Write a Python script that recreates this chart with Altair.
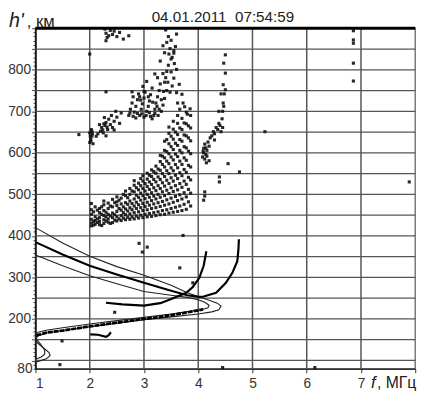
import altair as alt
import pandas as pd

# ---------------- axes / grid values ----------------
x_tick_vals = [1, 2, 3, 4, 5, 6, 7, 8]
f_grid = [2, 3, 4, 5, 6, 7]
y_label_vals = [80, 200, 300, 400, 500, 600, 700, 800]
y_minor_vals = list(range(80, 901, 10))
h_grid = [100, 150, 200, 250, 300, 350, 400, 450, 500, 550, 600, 650, 700, 750, 800, 850]
title_text = "04.01.2011\u00a0 07:54:59"

# ---------------- traces (f MHz, h' km) ----------------
outer_f = [1.0, 1.5, 2.0, 2.5, 3.0, 3.5, 3.8, 4.0, 4.2, 4.35, 4.42, 4.38, 4.25, 4.0, 3.5, 3.0, 2.5, 2.0, 1.5, 1.2, 1.05, 1.0, 1.04, 1.15, 1.25, 1.27, 1.2, 1.08, 1.0]
outer_h = [420, 383, 351, 326, 305, 281, 263, 254, 245, 238, 231, 222, 217, 212, 205, 198, 190, 181, 172, 166, 160, 152, 142, 130, 119, 112, 104, 99, 96]
inner_f = [1.0, 1.5, 2.0, 2.5, 3.0, 3.5, 3.8, 4.0, 4.12, 4.2, 4.18, 4.05, 3.5, 3.0, 2.5, 2.0, 1.5, 1.2, 1.05, 1.0, 1.03, 1.1, 1.17, 1.17, 1.1, 1.02]
inner_h = [354, 328, 304, 285, 266, 257, 252, 246, 240, 233, 227, 222, 212, 204, 196, 188, 179, 173, 168, 160, 150, 138, 125, 115, 108, 104]
mid_f = [1.0, 1.5, 2.0, 2.5, 3.0, 3.5, 3.8, 4.0, 4.1, 4.33, 4.51, 4.63, 4.72, 4.74, 4.75]
mid_h = [385, 355, 328, 307, 287, 268, 257, 253, 254, 263, 287, 311, 339, 365, 392]
arc_f = [2.3, 2.6, 3.0, 3.3, 3.48, 3.78, 3.9, 4.02, 4.1, 4.15]
arc_h = [239, 235, 232, 238, 247, 263, 277, 299, 328, 363]
low_f = [1.02, 1.2, 1.5, 2.0, 2.5, 3.0, 3.24, 3.5, 3.8, 4.09]
low_h = [160, 167, 172, 182, 191, 200, 204, 209, 216, 223]
seg_f = [2.01, 2.15, 2.3, 2.35, 2.39]
seg_h = [163, 162, 157, 161, 168]

# ---------------- scattered echoes (f, h') ----------------
band_left = [
    (2.03, 424), (2.03, 431), (2.03, 440), (2.03, 452), (2.03, 463), (2.03, 478),
    (2.1, 428), (2.1, 437), (2.1, 446), (2.1, 470),
    (2.18, 427), (2.18, 435), (2.18, 444), (2.18, 456), (2.18, 466),
    (2.26, 430), (2.26, 439), (2.26, 449), (2.26, 461), (2.26, 475), (2.26, 484),
    (2.34, 433), (2.34, 441), (2.34, 452), (2.34, 466), (2.34, 479),
    (2.42, 432), (2.42, 444), (2.42, 455), (2.42, 470), (2.42, 488),
    (2.5, 436), (2.5, 446), (2.5, 459), (2.5, 473), (2.5, 482), (2.5, 494),
    (2.58, 437), (2.58, 449), (2.58, 462), (2.58, 477), (2.58, 491),
    (2.66, 439), (2.66, 451), (2.66, 465), (2.66, 480), (2.66, 497), (2.66, 508),
]
band_mid = [
    (2.74, 440), (2.74, 453), (2.74, 468), (2.74, 484), (2.74, 500), (2.74, 514),
    (2.82, 441), (2.82, 456), (2.82, 472), (2.82, 489), (2.82, 506), (2.82, 522), (2.82, 533),
    (2.9, 443), (2.9, 458), (2.9, 475), (2.9, 493), (2.9, 511), (2.9, 527),
    (2.98, 444), (2.98, 461), (2.98, 478), (2.98, 497), (2.98, 514), (2.98, 532), (2.98, 545),
    (3.06, 446), (3.06, 463), (3.06, 481), (3.06, 500), (3.06, 519), (3.06, 537), (3.06, 551),
    (3.14, 447), (3.14, 466), (3.14, 485), (3.14, 504), (3.14, 524), (3.14, 543), (3.14, 559),
    (3.22, 449), (3.22, 468), (3.22, 489), (3.22, 509), (3.22, 530), (3.22, 551), (3.22, 568),
]
band_right = [
    (3.3, 451), (3.3, 471), (3.3, 493), (3.3, 514), (3.3, 536), (3.3, 558), (3.3, 579), (3.3, 594),
    (3.38, 452), (3.38, 474), (3.38, 497), (3.38, 520), (3.38, 543), (3.38, 566), (3.38, 588), (3.38, 606), (3.38, 628),
    (3.46, 455), (3.46, 477), (3.46, 502), (3.46, 526), (3.46, 550), (3.46, 574), (3.46, 598), (3.46, 622), (3.46, 647), (3.46, 662),
    (3.54, 457), (3.54, 481), (3.54, 507), (3.54, 532), (3.54, 557), (3.54, 583), (3.54, 608), (3.54, 633), (3.54, 657), (3.54, 676),
    (3.62, 459), (3.62, 485), (3.62, 511), (3.62, 538), (3.62, 564), (3.62, 591), (3.62, 618), (3.62, 644), (3.62, 671), (3.62, 690),
    (3.7, 461), (3.7, 489), (3.7, 517), (3.7, 545), (3.7, 572), (3.7, 600), (3.7, 628), (3.7, 656), (3.7, 683),
    (3.78, 464), (3.78, 494), (3.78, 524), (3.78, 553), (3.78, 582), (3.78, 612), (3.78, 641), (3.78, 670), (3.78, 698),
    (3.86, 472), (3.86, 503), (3.86, 535), (3.86, 566), (3.86, 598), (3.86, 629), (3.86, 660), (3.86, 690),
]
band_fill = [
    (2.07, 426), (2.07, 435), (2.07, 458), (2.14, 432), (2.14, 441), (2.14, 462), (2.22, 425), (2.22, 452),
    (2.22, 470), (2.3, 436), (2.3, 446), (2.3, 457), (2.38, 430), (2.38, 448), (2.38, 472), (2.46, 438),
    (2.46, 451), (2.46, 480), (2.54, 441), (2.54, 466), (2.54, 486), (2.62, 443), (2.62, 456), (2.62, 470),
    (2.62, 500), (2.7, 445), (2.7, 460), (2.7, 476), (2.7, 492), (2.78, 446), (2.78, 463), (2.78, 478),
    (2.78, 508), (2.86, 448), (2.86, 466), (2.86, 481), (2.86, 498), (2.86, 516), (2.94, 450), (2.94, 468),
    (2.94, 486), (2.94, 503), (2.94, 521), (2.94, 538), (3.02, 452), (3.02, 471), (3.02, 490), (3.02, 508),
    (3.02, 526), (3.1, 454), (3.1, 474), (3.1, 493), (3.1, 512), (3.1, 530), (3.1, 546), (3.18, 456),
    (3.18, 477), (3.18, 496), (3.18, 516), (3.18, 536), (3.18, 555), (3.26, 458), (3.26, 480), (3.26, 500),
    (3.26, 521), (3.26, 542), (3.26, 561), (3.34, 461), (3.34, 483), (3.34, 506), (3.34, 528), (3.34, 550),
    (3.34, 572), (3.34, 592), (3.42, 463), (3.42, 487), (3.42, 510), (3.42, 534), (3.42, 557), (3.42, 580),
    (3.42, 603), (3.42, 632), (3.5, 466), (3.5, 491), (3.5, 516), (3.5, 540), (3.5, 564), (3.5, 590),
    (3.5, 615), (3.5, 640), (3.58, 469), (3.58, 495), (3.58, 521), (3.58, 546), (3.58, 572), (3.58, 597),
    (3.58, 623), (3.58, 650), (3.66, 472), (3.66, 499), (3.66, 526), (3.66, 552), (3.66, 580), (3.66, 606),
    (3.66, 632), (3.66, 660), (3.74, 476), (3.74, 504), (3.74, 532), (3.74, 560), (3.74, 588), (3.74, 615),
    (3.74, 643), (3.74, 672), (3.82, 482), (3.82, 512), (3.82, 541), (3.82, 570), (3.82, 604), (3.82, 636),
    (3.82, 665),
]
upper_cloud = [
    (2.72, 690), (2.75, 705), (2.78, 720), (2.8, 735), (2.82, 698), (2.85, 712), (2.88, 728), (2.9, 742),
    (2.92, 690), (2.95, 705), (2.97, 718), (3.0, 732), (3.02, 746), (3.05, 700), (3.08, 712), (3.1, 725),
    (3.12, 740), (3.15, 756), (3.18, 690), (3.2, 705), (3.22, 720), (3.25, 735), (3.28, 750), (3.3, 766),
    (3.32, 700), (3.35, 715), (3.38, 731), (3.4, 781), (3.42, 796), (3.45, 811), (3.38, 770), (3.5, 826),
    (3.48, 746), (3.52, 761), (3.55, 840), (3.58, 856), (3.6, 801), (3.62, 720), (3.7, 741), (3.75, 711),
    (3.8, 693), (3.85, 706), (3.15, 682), (3.0, 686), (2.85, 684), (3.25, 781), (3.35, 791), (3.3, 821),
    (2.78, 747), (2.98, 760), (3.05, 772), (3.2, 790), (3.42, 750), (3.55, 780), (3.65, 765), (3.72, 720),
    (3.28, 705), (3.1, 697), (2.94, 727), (2.74, 696), (2.8, 688), (2.88, 695), (2.96, 694), (3.04, 690),
    (3.12, 688), (3.2, 695), (3.26, 690), (2.92, 735), (3.0, 748), (3.08, 735), (3.16, 722), (3.24, 712),
    (3.32, 728), (3.36, 748), (3.44, 770), (3.5, 795), (3.46, 838), (3.56, 815), (3.6, 745), (3.66, 705),
]
top_column = [(3.4, 896), (3.45, 880), (3.42, 866), (3.5, 871), (3.48, 851), (3.55, 846), (3.6, 886), (3.38, 841), (3.52, 830), (3.35, 858)]
top_left = [(2.28, 898), (2.3, 888), (2.32, 878), (2.3, 870), (2.38, 895), (2.42, 885), (2.45, 893), (2.5, 880),
            (2.55, 890), (2.35, 882), (2.62, 874), (2.0, 838), (2.72, 882), (2.3, 747)]
left_cloud = [
    (2.0, 625), (2.02, 632), (2.04, 640), (2.0, 648), (2.03, 656), (2.06, 622), (2.05, 646), (2.12, 640),
    (2.15, 646), (2.2, 652), (2.22, 661), (2.25, 648), (2.28, 666), (2.3, 673), (2.33, 656), (2.35, 681),
    (2.38, 668), (2.4, 690), (2.42, 661), (2.45, 676), (2.5, 686), (2.55, 671), (2.58, 696), (2.3, 641),
    (1.8, 644), (2.18, 668), (2.27, 685), (2.48, 700), (2.45, 655), (2.02, 628), (2.01, 640), (2.04, 652),
    (2.24, 655), (2.26, 670), (2.32, 662),
]
right_cloud = [
    (4.08, 590), (4.1, 600), (4.12, 585), (4.1, 611), (4.14, 596), (4.16, 606), (4.12, 621), (4.18, 626),
    (4.2, 616), (4.22, 636), (4.25, 641), (4.28, 651), (4.3, 631), (4.33, 661), (4.36, 656), (4.4, 666),
    (4.42, 651), (4.38, 671), (4.45, 661), (4.3, 646), (4.2, 581), (4.15, 576), (4.12, 506), (4.12, 496),
    (4.1, 486), (4.39, 542), (4.39, 530), (4.55, 574), (4.76, 554), (4.44, 682), (4.45, 700), (4.47, 712),
    (4.46, 720), (4.48, 742), (4.5, 752), (4.46, 764), (4.5, 792), (4.47, 816), (4.5, 836), (4.38, 700),
    (4.42, 742), (4.09, 604), (4.14, 612), (4.16, 592),
]
far_right = [(6.86, 894), (6.86, 872), (6.86, 864), (6.86, 816), (6.86, 773), (7.89, 530), (5.23, 651)]
sparse = [(2.91, 382), (2.97, 361), (3.06, 373), (3.66, 323), (3.72, 401), (3.9, 287), (2.46, 216),
          (1.45, 90), (1.49, 147), (4.45, 83), (6.15, 83)]

# ---------------- build tables ----------------
pts = []
for name, grp in [("band", band_left + band_mid + band_right + band_fill), ("upper", upper_cloud),
                  ("topcol", top_column), ("topleft", top_left), ("left", left_cloud),
                  ("right", right_cloud), ("far", far_right), ("sparse", sparse)]:
    for f, h in grp:
        pts.append({"f": f, "h": h, "g": name})
pts_df = pd.DataFrame(pts)


def curve_rows(name, fs, hs):
    return [{"f": f, "h": h, "c": name, "i": i} for i, (f, h) in enumerate(zip(fs, hs))]


thin_df = pd.DataFrame(curve_rows("outer", outer_f, outer_h) + curve_rows("inner", inner_f, inner_h))
thick_df = pd.DataFrame(curve_rows("mid", mid_f, mid_h) + curve_rows("arc", arc_f, arc_h) +
                        curve_rows("seg", seg_f, seg_h))
low_df = pd.DataFrame(curve_rows("low", low_f, low_h))

FONT = "Liberation Sans"
xscale = alt.Scale(domain=[1, 8], nice=False, zero=False)
yscale = alt.Scale(domain=[80, 900], nice=False, zero=False)

x_axis = alt.Axis(values=x_tick_vals, labelExpr="datum.value < 8 ? datum.label : ''", grid=False,
                  tickSize=4, labelPadding=4, domainColor="#333", domainWidth=1.5, tickColor="#333",
                  labelFont=FONT, labelFontSize=14, labelColor="#333", title=None, labelOverlap=False)
y_axis = alt.Axis(values=y_minor_vals,
                  labelExpr="(datum.value == 80 || (datum.value % 100 == 0 && datum.value >= 200 && datum.value <= 800)) ? datum.label : ''",
                  grid=False, tickSize={"condition": {"test": "datum.value % 50 == 0", "value": 4}, "value": 2.5},
                  labelPadding=1, domainColor="#000", domainWidth=1.5, tickColor="#444",
                  labelFont=FONT, labelFontSize=14, labelColor="#333", title=None, labelOverlap=False)

X = alt.X("f:Q", scale=xscale, axis=x_axis)
Y = alt.Y("h:Q", scale=yscale, axis=y_axis)

hgrid = alt.Chart(pd.DataFrame({"h": h_grid})).mark_rule(color="#555", strokeWidth=1.3).encode(y=Y)
vgrid = alt.Chart(pd.DataFrame({"f": f_grid})).mark_rule(color="#555", strokeWidth=1.5).encode(x=X)
top_border = alt.Chart(pd.DataFrame({"h": [900]})).mark_rule(color="#000", strokeWidth=3).encode(y=Y)

points = alt.Chart(pts_df).mark_square(size=10, color="#111", opacity=0.9).encode(x=X, y=Y)
thin = alt.Chart(thin_df).mark_line(color="#222", strokeWidth=1.1).encode(
    x=X, y=Y, detail="c:N", order="i:Q")
thick = alt.Chart(thick_df).mark_line(color="#000", strokeWidth=2.2).encode(
    x=X, y=Y, detail="c:N", order="i:Q")
low = alt.Chart(low_df).mark_line(color="#000", strokeWidth=2.8, strokeDash=[5, 1]).encode(
    x=X, y=Y, order="i:Q")


def label(txt, x, y, size, italic=False, align="left"):
    return alt.Chart(pd.DataFrame({"t": [txt]})).mark_text(
        font=FONT, fontSize=size, fontStyle="italic" if italic else "normal", color="#222",
        align=align, baseline="alphabetic").encode(text="t:N", x=alt.value(x), y=alt.value(y))


texts = (label(title_text, 191, -6, 15.5, align="center") +
         label("h'", -27, -1, 20, italic=True) + label(", км", -9, -1, 17) +
         label("f", 342, 367, 17, italic=True) + label(", МГц", 348, 367, 16))

chart = alt.layer(hgrid, vgrid, thin, thick, low, points, top_border, texts).properties(
    width=387, height=347,
    autosize=alt.AutoSizeParams(type="none"),
    padding={"left": 28, "top": 17, "right": 12, "bottom": 20},
).configure_view(stroke="#777", strokeWidth=1.5)

chart.save("out.html", embed_options={"renderer": "svg", "actions": False})
